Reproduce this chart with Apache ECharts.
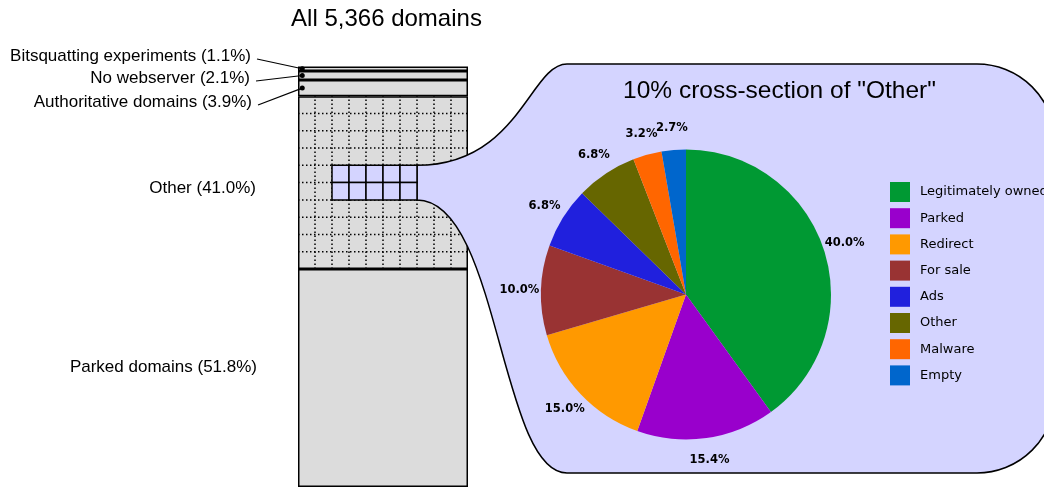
<!DOCTYPE html>
<html><head><meta charset="utf-8">
<script src="https://cdn.jsdelivr.net/npm/echarts@6/dist/echarts.min.js"></script>
<style>html,body{margin:0;padding:0;background:#fff}#c{width:1044px;height:489px}</style>
</head><body><div id="c"></div>
<script>
// ---------- data ----------
const barCategories = ['All 5,366 domains'];
const segmentNames = ['Parked domains', 'Other', 'Authoritative domains', 'No webserver', 'Bitsquatting experiments'];
const segmentValues = [51.8, 41.0, 3.9, 2.1, 1.1];
const pieTitle = '10% cross-section of "Other"';
const pieNames = ['Legitimately owned', 'Parked', 'Redirect', 'For sale', 'Ads', 'Other', 'Malware', 'Empty'];
const pieValues = [40.0, 15.4, 15.0, 10.0, 6.8, 6.8, 3.2, 2.7];
const gridDivisions = 10;
const sampleCols = [2, 3, 4, 5, 6];   // highlighted cells (column index, left to right)
const sampleRows = [4, 5];            // highlighted cells (row index, top to bottom)

// ---------- styles / layout ----------
const pieColors = ['#009933', '#9900cc', '#ff9900', '#993333', '#2020dd', '#666600', '#ff6600', '#0066cc'];
const barFill = '#dcdcdc';
const panelFill = '#d4d4ff';
const PIE_C = [686, 294.5], PIE_R = 145, LABEL_R = PIE_R * 1.15;
const PANEL = { left: 567, top: 64, right: 1055, bottom: 473, r: 78 };
const sideLabelLayout = [ // [right x, center y] for each segment label
  [257, 367], [256, 188], [252, 102], [250, 78], [251, 56]
];
const SANS = '"Liberation Sans", Arial, sans-serif';
const DEJAVU = '"DejaVu Sans", sans-serif';

const otherLow = segmentValues[0];
const otherHigh = segmentValues[0] + segmentValues[1];
const rowVal = r => otherHigh - (otherHigh - otherLow) * r / gridDivisions;

const cellData = [];
sampleRows.forEach(r => sampleCols.forEach(c => cellData.push([c, r])));

const pieTotal = pieValues.reduce((a, b) => a + b, 0);

const chart = echarts.init(document.getElementById('c'), null, { renderer: 'canvas' });

const barSeries = segmentNames.map((n, i) => ({
  name: 'segment: ' + n, type: 'bar', stack: 'all', xAxisIndex: 0, yAxisIndex: 0,
  barWidth: '100%', z: 2,
  data: [segmentValues[i]],
  itemStyle: { color: barFill, borderColor: '#000', borderWidth: 1.5 },
  silent: true
}));

const option = {
  animation: false,
  grid: { left: 298, width: 170, top: 66, height: 421, containLabel: false },
  xAxis: [
    { type: 'category', data: barCategories, show: false, boundaryGap: true },
    { type: 'value', min: 0, max: gridDivisions, show: false }
  ],
  yAxis: [{ type: 'value', min: 0, max: 100, show: false }],
  legend: {
    orient: 'vertical', left: 890, top: 182, padding: 0,
    itemWidth: 20, itemHeight: 20, itemGap: 6.2, z: 20,
    icon: 'rect', data: pieNames,
    textStyle: { fontFamily: DEJAVU, fontSize: 13, color: '#000', padding: [0, 0, 0, 5] }
  },
  series: barSeries.concat([
    { // dotted 10x10 grid over the "Other" segment
      type: 'custom', xAxisIndex: 1, yAxisIndex: 0, z: 3, silent: true,
      data: [[0, 0]],
      renderItem: function (params, api) {
        const style = { stroke: '#000', lineWidth: 1.5, lineDash: [1.5, 2.5] };
        const ch = [];
        for (let i = 1; i < gridDivisions; i++) {
          const a = api.coord([i, otherLow]), b = api.coord([i, otherHigh]);
          ch.push({ type: 'line', shape: { x1: a[0], y1: a[1], x2: b[0], y2: b[1] }, style: style });
          const y = rowVal(i);
          const c = api.coord([0, y]), d = api.coord([gridDivisions, y]);
          ch.push({ type: 'line', shape: { x1: c[0], y1: c[1], x2: d[0], y2: d[1] }, style: style });
        }
        return { type: 'group', children: ch };
      }
    },
    { // callout panel
      type: 'custom', xAxisIndex: 1, yAxisIndex: 0, z: 4, silent: true, clip: false,
      data: [[0, 0]],
      renderItem: function (params, api) {
        const rc = Math.max.apply(null, sampleCols) + 1;
        const rt = Math.min.apply(null, sampleRows);
        const rb = Math.max.apply(null, sampleRows) + 1;
        const A = api.coord([rc, rowVal(rt)]);
        const B = api.coord([rc, rowVal(rb)]);
        const P = PANEL;
        const d = [
          'M', A[0], A[1],
          'C', A[0] + 102, A[1], P.left - 37, P.top, P.left, P.top,
          'L', P.right - P.r, P.top,
          'A', P.r, P.r, 0, 0, 1, P.right, P.top + P.r,
          'L', P.right, P.bottom - P.r,
          'A', P.r, P.r, 0, 0, 1, P.right - P.r, P.bottom,
          'L', P.left, P.bottom,
          'C', P.left - 67, P.bottom, B[0] + 82, B[1], B[0], B[1],
          'Z'
        ].join(' ');
        return { type: 'path', shape: { pathData: d }, style: { fill: panelFill, stroke: '#000', lineWidth: 1.5 } };
      }
    },
    { // highlighted sample cells
      type: 'custom', xAxisIndex: 1, yAxisIndex: 0, z: 5, silent: true,
      data: cellData,
      renderItem: function (params, api) {
        const c = api.value(0), r = api.value(1);
        const p1 = api.coord([c, rowVal(r)]);
        const p2 = api.coord([c + 1, rowVal(r + 1)]);
        return { type: 'rect', shape: { x: p1[0], y: p1[1], width: p2[0] - p1[0], height: p2[1] - p1[1] },
          style: { fill: panelFill, stroke: '#000', lineWidth: 1.5 } };
      }
    },
    {
      type: 'pie', z: 6, center: PIE_C, radius: PIE_R, startAngle: 90, clockwise: true,
      avoidLabelOverlap: false, silent: true,
      data: pieNames.map((n, i) => ({ name: n, value: pieValues[i], itemStyle: { color: pieColors[i] } })),
      itemStyle: { borderWidth: 0 },
      label: {
        show: true, position: 'outside', color: '#000', fontFamily: DEJAVU, fontWeight: 'bold', fontSize: 11.5,
        formatter: p => p.value.toFixed(1) + '%'
      },
      labelLine: { show: false },
      labelLayout: function (p) {
        let before = 0;
        for (let k = 0; k < p.dataIndex; k++) before += pieValues[k];
        const mid = (before + pieValues[p.dataIndex] / 2) / pieTotal * Math.PI * 2;
        return { x: PIE_C[0] + LABEL_R * Math.sin(mid), y: PIE_C[1] - LABEL_R * Math.cos(mid), align: 'center', verticalAlign: 'middle' };
      }
    }
  ])
};
chart.setOption(option);

// ---------- text labels, leader lines, dots ----------
const graphics = [
  { type: 'text', z: 30, style: { text: barCategories[0], x: 386.5, y: 19, fill: '#000', fontSize: 24, fontFamily: SANS, align: 'center', verticalAlign: 'middle' } },
  { type: 'text', z: 30, style: { text: pieTitle, x: 779.5, y: 91, fill: '#000', fontSize: 24.5, fontFamily: SANS, align: 'center', verticalAlign: 'middle' } }
];
let cum = 0;
segmentNames.forEach((n, i) => {
  const mid = cum + segmentValues[i] / 2;
  cum += segmentValues[i];
  const L = sideLabelLayout[i];
  graphics.push({ type: 'text', z: 30, style: { text: n + ' (' + segmentValues[i].toFixed(1) + '%)', x: L[0], y: L[1], fill: '#000', fontSize: 17, fontFamily: SANS, align: 'right', verticalAlign: 'middle' } });
  if (i >= 2) {
    const dot = chart.convertToPixel({ xAxisIndex: 1, yAxisIndex: 0 }, [0.25, mid]);
    graphics.push({ type: 'line', z: 30, shape: { x1: L[0] + 6, y1: L[1] + 3, x2: dot[0], y2: dot[1] }, style: { stroke: '#000', lineWidth: 1.2 } });
    graphics.push({ type: 'circle', z: 31, shape: { cx: dot[0], cy: dot[1], r: 2.5 }, style: { fill: '#000' } });
  }
});
chart.setOption({ graphic: graphics });
</script>
</body></html>
